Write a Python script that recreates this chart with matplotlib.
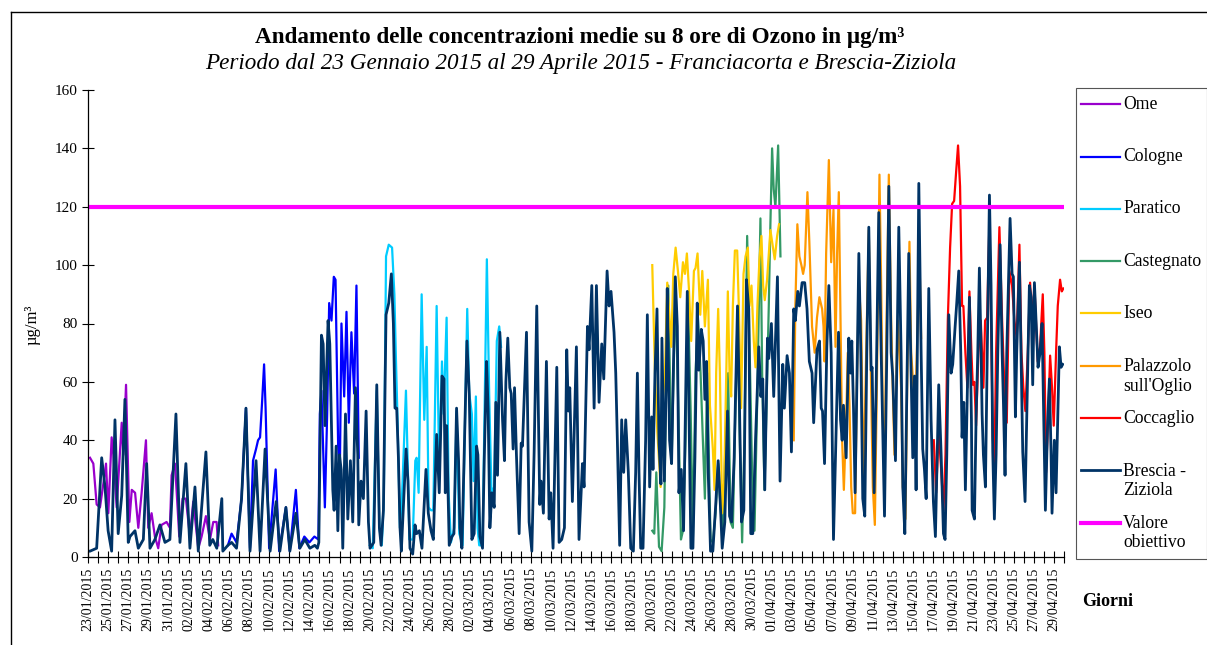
import numpy as np
import pandas as pd
import matplotlib
matplotlib.use('Agg')
import matplotlib.pyplot as plt
from matplotlib.lines import Line2D
from matplotlib.patches import Rectangle

plt.rcParams['font.family'] = ['Liberation Serif', 'DejaVu Serif']

START = pd.Timestamp('2015-01-23')
END = pd.Timestamp('2015-04-30')

# (giorni dal 23/01/2015 00:00, media mobile 8 ore in ug/m3)
ome = [(0.2, 34), (0.53, 32), (0.86, 18), (1.19, 17), (1.52, 25), (1.79, 32), (2.02, 15),
       (2.35, 41), (2.52, 35), (2.85, 17), (3.35, 46), (3.51, 35), (3.78, 59), (4.11, 12),
       (4.35, 23), (4.68, 22), (5.0, 10), (5.33, 22), (5.76, 40), (5.99, 10), (6.32, 15),
       (6.65, 7), (6.98, 3), (7.31, 11), (7.81, 12), (8.14, 10), (8.31, 28), (8.64, 32),
       (8.8, 23), (9.07, 7), (9.4, 20), (9.73, 20), (10.13, 7), (10.46, 19), (10.96, 3),
       (11.29, 7), (11.72, 14), (12.12, 6), (12.45, 12), (12.78, 12), (12.94, 4)]

cologne = [(13.9, 4), (14.27, 8), (14.76, 5), (15.26, 20), (15.7, 51), (16.1, 3), (16.4, 33),
           (16.7, 37), (16.9, 40), (17.1, 41), (17.3, 53), (17.5, 66), (17.65, 51), (18.0, 3),
           (18.65, 30), (19.0, 2), (19.67, 17), (20.06, 2), (20.66, 23), (21.0, 3), (21.5, 7),
           (22.0, 5), (22.5, 7), (22.9, 6), (23.04, 49), (23.2, 57), (23.54, 17), (23.77, 49),
           (23.97, 87), (24.2, 81), (24.43, 96), (24.6, 95), (24.86, 38), (25.03, 29),
           (25.19, 80), (25.46, 55), (25.69, 84), (25.92, 46), (26.18, 77), (26.45, 56),
           (26.68, 93), (26.91, 34)]

paratico = [(28.0, 4), (28.3, 3), (28.7, 57), (28.96, 10), (29.2, 4), (29.4, 20), (29.62, 103),
            (29.89, 107), (30.22, 106), (30.45, 90), (30.61, 67), (30.78, 45), (31.0, 10),
            (31.2, 20), (31.6, 57), (31.77, 33), (31.94, 6), (32.27, 6), (32.53, 33), (32.66, 34),
            (32.86, 22), (33.16, 90), (33.42, 47), (33.66, 72), (33.85, 17), (34.09, 16),
            (34.32, 16), (34.65, 86), (34.91, 28), (35.18, 67), (35.34, 49), (35.64, 82),
            (35.84, 22), (36.07, 5), (36.4, 10), (36.63, 50), (36.9, 8), (37.23, 4), (37.69, 85),
            (37.89, 56), (38.15, 49), (38.32, 26), (38.55, 55), (38.72, 10), (38.88, 4),
            (39.21, 4), (39.64, 102), (39.87, 56), (40.1, 22), (40.37, 24), (40.63, 74),
            (40.87, 79), (41.05, 72)]

castegnato = [(56.08, 9), (56.28, 8), (56.48, 29), (56.75, 3.5), (57.01, 2), (57.28, 17),
              (57.47, 63), (57.67, 93), (58.0, 32), (58.2, 63), (58.4, 93), (58.67, 51),
              (58.93, 6), (59.13, 9), (59.39, 40), (59.62, 90), (59.89, 51), (60.12, 7),
              (60.38, 63), (60.62, 82), (60.88, 63), (61.11, 40), (61.31, 20), (61.54, 63),
              (61.87, 6), (62.1, 5), (62.37, 15), (62.63, 32), (62.86, 17), (63.1, 8),
              (63.36, 40), (63.62, 63), (63.86, 12), (64.09, 10), (64.35, 52), (64.55, 82),
              (64.78, 40), (65.01, 5), (65.24, 40), (65.51, 110), (65.74, 74), (66.0, 29),
              (66.24, 9), (66.5, 52), (66.83, 116), (67.0, 63), (67.23, 23), (67.43, 51),
              (67.66, 86), (67.82, 114), (67.99, 140), (68.15, 126), (68.32, 120), (68.59, 141),
              (68.75, 115), (68.82, 103)]

iseo = [(56.08, 100), (56.35, 63), (56.58, 43), (56.91, 24), (57.08, 52), (57.34, 63),
        (57.57, 94), (57.74, 85), (57.97, 72), (58.17, 97), (58.4, 106), (58.63, 98),
        (58.86, 89), (59.13, 101), (59.33, 97), (59.52, 104), (59.72, 92), (59.95, 74),
        (60.22, 98), (60.38, 99), (60.58, 104), (60.85, 83), (61.05, 98), (61.31, 79),
        (61.61, 95), (61.81, 52), (62.1, 37), (62.27, 23), (62.43, 63), (62.63, 85), (62.8, 63),
        (63.03, 15), (63.23, 26), (63.59, 91), (63.76, 63), (63.92, 55), (64.09, 86),
        (64.29, 105), (64.52, 105), (64.68, 86), (64.91, 51), (65.15, 97), (65.35, 103),
        (65.58, 106), (65.74, 86), (65.94, 93), (66.17, 74), (66.34, 65), (66.53, 86),
        (66.73, 102), (66.93, 110), (67.1, 93), (67.26, 88), (67.49, 95), (67.82, 112),
        (67.99, 108), (68.25, 102), (68.49, 110), (68.68, 114)]

palazzolo = [(70.14, 40), (70.3, 86), (70.5, 114), (70.7, 103), (70.9, 100), (71.07, 97),
             (71.23, 100), (71.5, 125), (71.69, 108), (71.96, 79), (72.22, 70), (72.45, 82),
             (72.69, 89), (72.96, 85), (73.1, 79), (73.2, 67), (73.36, 104), (73.63, 136),
             (73.86, 101), (74.09, 119), (74.29, 72), (74.45, 104), (74.62, 125), (74.79, 81),
             (74.95, 40), (75.12, 23), (75.35, 47), (75.51, 70), (75.68, 52), (75.85, 24),
             (76.01, 15), (76.24, 15), (76.41, 58), (76.61, 93), (76.84, 81), (77.07, 24),
             (77.34, 70), (77.6, 112), (77.83, 58), (78.0, 24), (78.2, 11), (78.4, 58),
             (78.66, 131), (78.83, 93), (78.99, 47), (79.16, 30), (79.32, 70), (79.59, 131),
             (79.82, 81), (79.98, 58), (80.15, 35), (80.48, 81), (80.81, 58), (80.98, 24),
             (81.24, 13), (81.41, 58), (81.64, 108), (81.81, 70), (82.04, 58), (82.3, 60),
             (82.63, 104), (82.8, 75)]

coccaglio = [(84.06, 40), (84.29, 22), (84.55, 43), (84.79, 30), (85.02, 16), (85.22, 35),
             (85.45, 81), (85.68, 106), (85.88, 121), (86.08, 122), (86.28, 132), (86.47, 141),
             (86.67, 127), (86.87, 86), (87.0, 86), (87.2, 70), (87.4, 58), (87.6, 91),
             (87.8, 70), (87.93, 59), (88.1, 60), (88.26, 45), (88.49, 70), (88.73, 81),
             (88.99, 58), (89.16, 81), (89.36, 82), (89.59, 115), (89.75, 81), (89.92, 41),
             (90.08, 30), (90.25, 70), (90.58, 113), (90.85, 81), (91.08, 58), (91.31, 46),
             (91.57, 98), (91.84, 93), (92.07, 81), (92.3, 75), (92.57, 107), (92.77, 70),
             (92.96, 58), (93.16, 50), (93.4, 70), (93.63, 94), (93.83, 81), (94.06, 93),
             (94.39, 67), (94.62, 72), (94.89, 90), (95.05, 70), (95.22, 29), (95.42, 47),
             (95.62, 69), (95.81, 58), (95.98, 45), (96.21, 70), (96.38, 86), (96.61, 95),
             (96.78, 91), (96.94, 92)]

brescia = [(0.0, 2), (0.2, 2), (0.86, 3), (1.36, 34), (1.69, 24), (2.0, 9), (2.35, 2), (2.68, 47),
           (3.0, 8), (3.35, 21), (3.67, 54), (4.0, 5), (4.17, 7), (4.67, 9), (5.0, 3), (5.5, 6),
           (5.83, 32), (6.16, 3), (6.65, 6), (7.15, 11), (7.65, 5), (8.14, 6), (8.74, 49),
           (9.14, 5), (9.73, 32), (10.13, 3), (10.63, 24), (10.96, 2), (11.72, 36), (12.1, 4),
           (12.4, 6), (12.8, 3), (13.3, 20), (13.4, 2), (13.9, 4), (14.27, 5), (14.76, 3),
           (15.26, 20), (15.7, 51), (16.1, 2), (16.7, 33), (17.1, 2), (17.6, 37), (18.1, 2),
           (18.7, 19), (19.07, 2), (19.67, 17), (20.06, 2), (20.66, 15), (21.05, 3), (21.55, 6),
           (22.05, 3), (22.54, 4), (22.8, 3), (22.94, 5), (23.2, 76), (23.37, 73), (23.55, 45),
           (23.86, 81), (24.03, 73), (24.33, 23), (24.46, 16), (24.66, 38), (24.83, 9),
           (24.99, 35), (25.16, 30), (25.32, 3), (25.59, 49), (25.82, 13), (26.08, 33),
           (26.31, 12), (26.58, 58), (26.81, 35), (26.91, 11), (27.14, 26), (27.37, 20),
           (27.64, 50), (27.87, 12), (28.03, 3), (28.4, 5), (28.7, 59), (28.96, 10), (29.13, 4),
           (29.36, 16), (29.62, 83), (29.89, 87), (30.15, 97), (30.35, 80), (30.51, 51),
           (30.68, 51), (30.85, 34), (31.01, 10), (31.14, 2), (31.34, 17), (31.61, 37),
           (31.8, 26), (32.0, 3), (32.27, 1), (32.5, 11), (32.66, 8), (32.93, 9), (33.19, 3),
           (33.59, 30), (33.82, 15), (34.09, 9), (34.32, 6), (34.65, 42), (34.91, 22),
           (35.18, 62), (35.38, 61), (35.51, 22), (35.64, 45), (35.9, 4), (36.17, 7),
           (36.37, 8), (36.63, 51), (36.83, 33), (36.96, 10), (37.16, 3), (37.66, 74),
           (37.89, 56), (38.15, 6), (38.38, 8), (38.62, 38), (38.75, 35), (38.95, 7),
           (39.21, 3), (39.38, 33), (39.61, 67), (39.77, 50), (39.94, 10), (40.14, 22),
           (40.37, 17), (40.53, 53), (40.7, 28), (40.93, 77), (41.2, 47), (41.39, 33),
           (41.53, 60), (41.72, 75), (41.92, 58), (42.06, 56), (42.25, 37), (42.39, 58),
           (42.58, 35), (42.85, 8), (43.05, 39), (43.18, 38), (43.58, 77), (43.84, 12),
           (44.11, 2), (44.34, 36), (44.6, 86), (44.9, 18), (45.03, 26), (45.26, 15),
           (45.56, 67), (45.83, 13), (45.99, 22), (46.22, 3), (46.59, 65), (46.82, 5),
           (47.08, 6), (47.35, 10), (47.58, 71), (47.74, 50), (47.88, 58), (48.14, 19),
           (48.54, 72), (48.8, 6), (49.14, 32), (49.3, 24), (49.64, 79), (49.8, 71), (50.07, 93),
           (50.3, 51), (50.53, 93), (50.79, 53), (51.06, 73), (51.26, 61), (51.59, 98),
           (51.79, 86), (51.98, 91), (52.28, 77), (52.45, 63), (52.61, 40), (52.84, 4),
           (53.04, 47), (53.24, 29), (53.44, 47), (53.7, 29), (53.94, 3), (54.2, 2), (54.43, 29),
           (54.6, 63), (54.76, 29), (54.93, 3), (55.16, 3), (55.42, 40), (55.59, 83), (55.82, 24),
           (56.02, 48), (56.15, 30), (56.35, 63), (56.55, 85), (56.75, 39), (56.94, 25),
           (57.04, 75), (57.28, 26), (57.47, 61), (57.57, 92), (57.8, 40), (58.0, 32),
           (58.17, 63), (58.37, 96), (58.57, 79), (58.73, 22), (58.96, 30), (59.19, 9),
           (59.33, 40), (59.56, 91), (59.72, 52), (59.92, 3), (60.12, 3), (60.32, 34),
           (60.55, 87), (60.71, 64), (60.95, 78), (61.14, 74), (61.31, 54), (61.48, 67),
           (61.64, 29), (61.87, 2), (62.1, 2), (62.37, 17), (62.63, 33), (62.86, 17), (63.03, 3),
           (63.29, 12), (63.56, 50), (63.76, 14), (63.96, 12), (64.22, 34), (64.55, 86),
           (64.75, 51), (64.95, 12), (65.18, 16), (65.44, 95), (65.67, 85), (65.87, 8),
           (66.07, 8), (66.34, 40), (66.67, 72), (66.87, 55), (67.06, 61), (67.26, 23),
           (67.53, 75), (67.66, 68), (67.92, 80), (68.15, 55), (68.52, 96), (68.78, 26),
           (69.05, 66), (69.21, 51), (69.48, 69), (69.71, 63), (69.91, 36), (70.14, 85),
           (70.3, 81), (70.54, 91), (70.7, 86), (70.97, 94), (71.23, 94), (71.46, 85),
           (71.69, 67), (71.96, 63), (72.12, 46), (72.45, 71), (72.7, 74), (72.87, 51),
           (73.0, 50), (73.2, 32), (73.43, 72), (73.63, 93), (73.86, 70), (74.09, 6), (74.29, 35),
           (74.59, 77), (74.79, 47), (74.95, 40), (75.08, 52), (75.35, 34), (75.61, 75),
           (75.78, 63), (75.91, 74), (76.08, 51), (76.24, 22), (76.41, 58), (76.61, 104),
           (76.81, 70), (77.0, 20), (77.2, 14), (77.4, 70), (77.6, 113), (77.83, 64), (77.93, 65),
           (78.13, 22), (78.33, 58), (78.59, 118), (78.83, 70), (79.16, 14), (79.39, 70),
           (79.59, 127), (79.82, 70), (79.98, 62), (80.25, 33), (80.58, 113), (80.81, 70),
           (80.98, 24), (81.18, 8), (81.38, 58), (81.57, 104), (81.81, 61), (81.97, 34),
           (82.14, 62), (82.3, 23), (82.57, 128), (82.8, 70), (82.96, 37), (83.13, 30),
           (83.3, 20), (83.56, 92), (83.79, 47), (84.02, 19), (84.22, 7), (84.55, 59),
           (84.79, 35), (85.02, 8), (85.18, 6), (85.35, 35), (85.55, 83), (85.78, 63),
           (85.94, 66), (86.18, 79), (86.34, 87), (86.54, 98), (86.74, 70), (86.87, 41),
           (87.04, 53), (87.2, 23), (87.4, 58), (87.6, 89), (87.8, 47), (87.87, 16), (88.1, 13),
           (88.26, 47), (88.43, 70), (88.59, 99), (88.76, 70), (88.86, 49), (88.99, 35),
           (89.19, 24), (89.42, 81), (89.59, 124), (89.75, 93), (89.92, 36), (90.08, 13),
           (90.25, 35), (90.42, 70), (90.65, 107), (90.85, 70), (90.98, 53), (91.14, 28),
           (91.31, 70), (91.64, 116), (91.84, 97), (91.97, 96), (92.17, 48), (92.3, 70),
           (92.57, 101), (92.73, 70), (92.9, 36), (93.13, 19), (93.36, 58), (93.56, 93),
           (93.73, 89), (93.89, 59), (94.06, 94), (94.22, 81), (94.42, 65), (94.62, 70),
           (94.82, 80), (94.99, 47), (95.15, 16), (95.38, 47), (95.55, 61), (95.71, 36),
           (95.81, 15), (96.04, 40), (96.21, 22), (96.38, 47), (96.54, 72), (96.71, 65),
           (96.87, 66)]

valore_obiettivo = 120

names = ['Ome', 'Cologne', 'Paratico', 'Castegnato', 'Iseo', "Palazzolo\nsull'Oglio",
         'Coccaglio', 'Brescia -\nZiziola', 'Valore\nobiettivo']
colors = ['#9900CC', '#0000FF', '#00CCFF', '#339966', '#FFCC00', '#FF9900',
          '#FF0000', '#003366', '#FF00FF']
widths = [1.6, 1.6, 1.6, 1.6, 1.6, 1.6, 1.6, 2.0, 3.0]
stations = [ome, cologne, paratico, castegnato, iseo, palazzolo, coccaglio, brescia]


def to_dates(days):
    return START + pd.to_timedelta(np.asarray(days), unit='D')


W, H = 1207, 645
fig = plt.figure(figsize=(W / 100, H / 100), dpi=100)
ax = fig.add_axes([88 / W, 1 - 557 / H, 976 / W, 467 / H])

for data, col, lw in zip(stations, colors, widths):
    arr = np.array(data, dtype=float)
    ax.plot(to_dates(arr[:, 0]), arr[:, 1], color=col, lw=lw, solid_joinstyle='round')

last_day = np.array(brescia)[-1, 0]
ax.plot(to_dates([0, last_day]), [valore_obiettivo] * 2, color=colors[-1], lw=widths[-1])

ax.set_xlim(START, END)
ax.set_ylim(0, 160)
ax.set_yticks(range(0, 161, 20))
major = pd.date_range(START, '2015-04-29', freq='2D')
minor = pd.date_range(START, END, freq='D')
ax.set_xticks(major)
ax.set_xticks(minor, minor=True)
ax.set_xticklabels([d.strftime('%d/%m/%Y') for d in major], rotation=90, fontsize=10)
ax.tick_params(axis='y', labelsize=11, direction='inout', length=8, width=0.8)
ax.tick_params(axis='x', which='both', direction='inout', length=8, width=0.8)
for s in ['top', 'right']:
    ax.spines[s].set_visible(False)
for s in ['left', 'bottom']:
    ax.spines[s].set_linewidth(0.9)

# titoli
fig.text(580 / W, 1 - 37 / H, 'Andamento delle concentrazioni medie su 8 ore di Ozono in µg/m³',
         ha='center', va='center', fontsize=16.7, fontweight='bold')
fig.text(581 / W, 1 - 63 / H,
         'Periodo dal 23 Gennaio 2015 al 29 Aprile 2015 - Franciacorta e Brescia-Ziziola',
         ha='center', va='center', fontsize=16.7, style='italic')
fig.text(33 / W, 1 - 325 / H, 'µg/m³', rotation=90, ha='center', va='center', fontsize=12)
fig.text(1108 / W, 1 - 602 / H, 'Giorni', ha='center', va='center', fontsize=13,
         fontweight='bold')

# cornice
fig.add_artist(Line2D([10.7 / W, 1], [1 - 11.7 / H] * 2, color='black', lw=1))
fig.add_artist(Line2D([10.7 / W] * 2, [0, 1 - 11.7 / H], color='black', lw=1))

# legenda
fig.add_artist(Rectangle((1075.5 / W, 1 - 559 / H), 131 / W, 471.5 / H, fill=False,
                         ec='#555555', lw=0.8))
for i, (name, col, lw) in enumerate(zip(names, colors, widths)):
    y = 104.3 + 52.3 * i
    fig.add_artist(Line2D([1081 / W, 1120 / W], [1 - y / H] * 2, color=col, lw=lw))
    yt = y + 10.5 if '\n' in name else y
    fig.text(1123 / W, 1 - yt / H, name, ha='left', va='center', fontsize=12.7,
             linespacing=1.2)

fig.savefig('out.png', dpi=100)
